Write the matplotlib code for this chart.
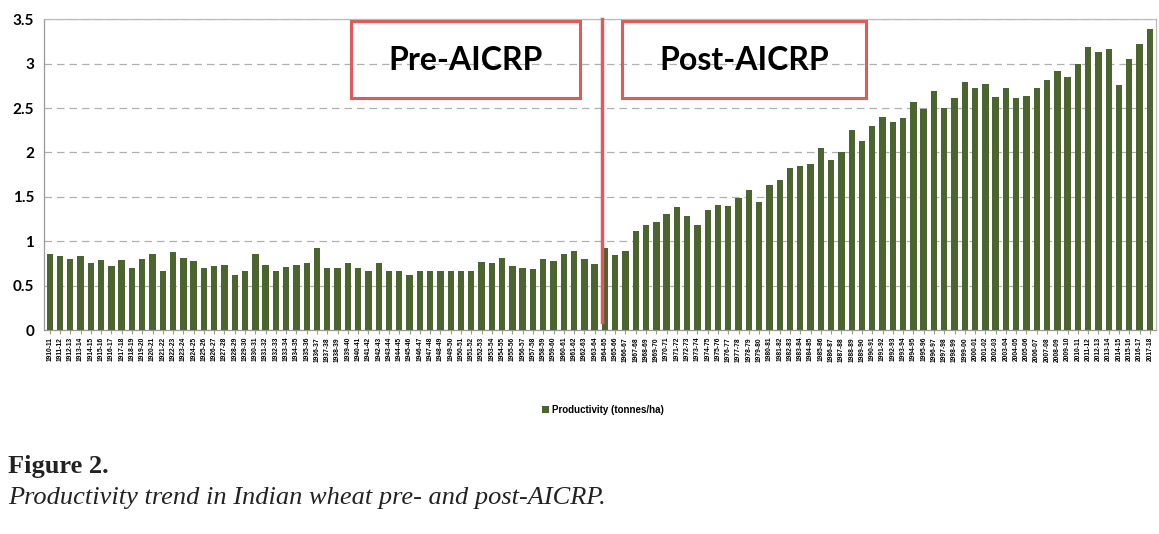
import matplotlib.pyplot as plt
from matplotlib.patches import Rectangle

years = [f"{y}-{str(y + 1)[-2:]}" for y in range(1910, 2018)]

productivity = [
    0.86, 0.83, 0.80, 0.83, 0.75, 0.79, 0.72, 0.79, 0.70, 0.80,
    0.86, 0.66, 0.88, 0.81, 0.78, 0.70, 0.72, 0.73, 0.62, 0.67,
    0.86, 0.73, 0.67, 0.71, 0.73, 0.75, 0.92, 0.70, 0.70, 0.76,
    0.70, 0.67, 0.75, 0.67, 0.67, 0.62, 0.67, 0.67, 0.67, 0.67,
    0.67, 0.66, 0.77, 0.76, 0.81, 0.72, 0.70, 0.69, 0.80, 0.78,
    0.86, 0.89, 0.80, 0.74, 0.92, 0.84, 0.89, 1.11, 1.18, 1.22,
    1.31, 1.39, 1.28, 1.18, 1.35, 1.41, 1.40, 1.49, 1.58, 1.44,
    1.63, 1.69, 1.82, 1.85, 1.87, 2.05, 1.92, 2.00, 2.25, 2.13,
    2.30, 2.40, 2.34, 2.39, 2.57, 2.49, 2.69, 2.50, 2.61, 2.79,
    2.72, 2.77, 2.62, 2.72, 2.61, 2.63, 2.72, 2.82, 2.92, 2.85,
    3.00, 3.19, 3.13, 3.16, 2.76, 3.05, 3.22, 3.39,
]

bar_green = "#4A662E"
box_red = "#E05A5A"

fig = plt.figure(figsize=(11.59, 5.34), dpi=100)
ax = fig.add_axes([0.038, 0.382, 0.959, 0.582])

x = list(range(len(years)))
ax.bar(x, productivity, width=0.62, color=bar_green, zorder=3,
       label="Productivity (tonnes/ha)")

ax.set_ylim(0, 3.5)
ax.set_xlim(-0.55, len(years) - 0.45)
ax.set_yticks([0, 0.5, 1, 1.5, 2, 2.5, 3, 3.5])
ax.set_yticklabels(["0", "0.5", "1", "1.5", "2", "2.5", "3", "3.5"],
                   fontsize=11, fontweight="bold", family="Lato")
ax.set_xticks(x)
ax.set_xticklabels(years, rotation=90, fontsize=4.8, fontweight="bold",
                   family="Liberation Sans")
ax.tick_params(axis="x", length=3, pad=2, color="#999999")
ax.tick_params(axis="y", length=0, pad=7)
ax.grid(axis="y", color="#B0B0B0", linestyle=(0, (6, 4)), linewidth=0.9,
        zorder=0)
for s in ax.spines.values():
    s.set_color("#BBBBBB")
    s.set_linewidth(0.9)
ax.spines["left"].set_color("#999999")
ax.spines["bottom"].set_color("#999999")

# divider between pre and post AICRP
ax.plot([53.7, 53.7], [0.09, 3.5], color=box_red, linewidth=2.5, zorder=4,
        clip_on=False)

# labelled boxes
ax.add_patch(Rectangle((29.3, 2.61), 22.3, 0.87, fill=False,
                       edgecolor=box_red, linewidth=2.2, zorder=5))
ax.text(40.45, 3.03, "Pre-AICRP", ha="center", va="center", fontsize=23,
        fontweight="bold", family="Lato", zorder=6)
ax.add_patch(Rectangle((55.7, 2.61), 23.7, 0.87, fill=False,
                       edgecolor=box_red, linewidth=2.2, zorder=5))
ax.text(67.55, 3.03, "Post-AICRP", ha="center", va="center", fontsize=23,
        fontweight="bold", family="Lato", zorder=6)

leg = fig.legend(loc="center", bbox_to_anchor=(0.52, 0.232), frameon=False,
                 handlelength=0.7, handleheight=0.7, handletextpad=0.3,
                 prop={"size": 7, "weight": "bold", "family": "Liberation Sans"})

fig.text(0.007, 0.127, "Figure 2.", fontsize=19, fontweight="bold",
         family="Liberation Serif", ha="left", va="center", color="#222222")
fig.text(0.007, 0.068, "Productivity trend in Indian wheat pre- and post-AICRP.",
         fontsize=19, style="italic", family="Liberation Serif",
         ha="left", va="center", color="#222222")

fig.savefig("out.png", dpi=100)
